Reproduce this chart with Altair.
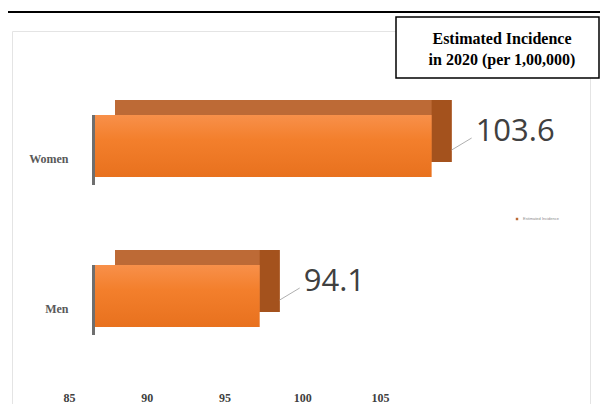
import altair as alt
import pandas as pd

# ---- data ----
categories = ["Women", "Men"]
incidence = [103.6, 94.1]
axis_start = [85, 85]
x_ticks = [85, 90, 95, 100, 105]
series_name = ["Estimated Incidence", "Estimated Incidence"]
title_text = ["Estimated Incidence\nin 2020 (per 1,00,000)"]

df = pd.DataFrame({"group": categories, "value": incidence,
                   "base": axis_start, "series": series_name})
ticks_df = pd.DataFrame({"tick": x_ticks})
title_df = pd.DataFrame({"t": title_text})
one_df = pd.DataFrame({"k": [0]})

bar_x_scale = alt.Scale(domain=[80.414, 112.35], nice=False, zero=False)
tick_x_scale = alt.Scale(domain=[81.334, 118.50], nice=False, zero=False)
y_scale = alt.Scale(domain=categories, range=[40, 340], paddingInner=0, paddingOuter=0)

y_axis = alt.Axis(title=None, offset=-58, labelOffset=13, domain=False, ticks=False,
                  grid=False, labelPadding=2, labelFont="Liberation Serif",
                  labelFontWeight="bold", labelFontSize=12, labelColor="#595959")

base = alt.Chart(df)
y_enc = alt.Y("group:N", scale=y_scale, axis=y_axis)
x_bar = alt.X("base:Q", scale=bar_x_scale, axis=None)
x_val = alt.X("value:Q", scale=bar_x_scale, axis=None)

edge = base.mark_bar(size=70, yOffset=4, xOffset=-3, color="#6e6e6e").encode(
    x=x_bar, x2="base:Q", y=y_enc)

back = base.mark_bar(size=62, xOffset=20, x2Offset=20, yOffset=-15).encode(
    x=x_bar, x2="value:Q", y=y_enc,
    color=alt.Color("series:N", scale=alt.Scale(range=["#bd6a36"]),
                    legend=alt.Legend(title=None, orient="none", legendX=503, legendY=186,
                                      labelFontSize=4, symbolSize=6, symbolType="square",
                                      labelColor="#8a8a8a", symbolStrokeWidth=0)))

side = base.mark_bar(size=62, x2Offset=20, yOffset=-15, color="#a4521d").encode(
    x=x_val, x2="value:Q", y=y_enc)

front = base.mark_bar(
    size=62,
    color=alt.Gradient(gradient="linear",
                       stops=[alt.GradientStop(color="#f8904a", offset=0),
                              alt.GradientStop(color="#f37f2c", offset=0.4),
                              alt.GradientStop(color="#e8711e", offset=1)],
                       x1=0, x2=0, y1=0, y2=1)).encode(
    x=x_bar, x2="value:Q", y=y_enc)

leader = base.mark_rule(color="#b0b0b0", strokeWidth=1, xOffset=20, x2Offset=40,
                        yOffset=4, y2Offset=-8).encode(
    x=x_val, x2="value:Q", y=y_enc, y2="group:N")

labels = base.mark_text(align="left", baseline="middle", dx=44, dy=-14, fontSize=31,
                        font="Open Sans", color="#404040").encode(
    x=x_val, y=y_enc, text=alt.Text("value:Q", format=".1f"))

ticks = alt.Chart(ticks_df).mark_point(opacity=0).encode(
    x=alt.X("tick:Q", scale=tick_x_scale,
            axis=alt.Axis(values=x_ticks, title=None, offset=-12, domain=False, ticks=False,
                          grid=False, labelPadding=0, labelFont="Liberation Serif",
                          labelFontWeight="bold", labelFontSize=12, labelColor="#404040")))

top_line = alt.Chart(one_df).mark_rule(color="black", strokeWidth=2).encode(
    x=alt.value(-12), x2=alt.value(592), y=alt.value(-19))

box = alt.Chart(one_df).mark_rect(fill="white", stroke="black", strokeWidth=1.5).encode(
    x=alt.value(384), x2=alt.value(587), y=alt.value(-14), y2=alt.value(47))

title = alt.Chart(title_df).mark_text(align="center", baseline="top", lineBreak="\n",
                                      lineHeight=21, fontSize=16, fontWeight="bold",
                                      font="Liberation Serif", color="black").encode(
    x=alt.value(490), y=alt.value(0), text="t:N")

chart = alt.layer(edge, back, side, front, leader, labels, ticks, top_line, box, title).resolve_scale(
    x="independent").properties(
    width=578, height=373,
    autosize=alt.AutoSizeParams(type="none"),
    padding={"left": 4, "top": 23, "right": 10, "bottom": 0},
    background="white",
).configure_view(stroke="#e4e4e4", strokeWidth=1)

chart.save("out.html", embed_options={"renderer": "svg", "actions": False})
